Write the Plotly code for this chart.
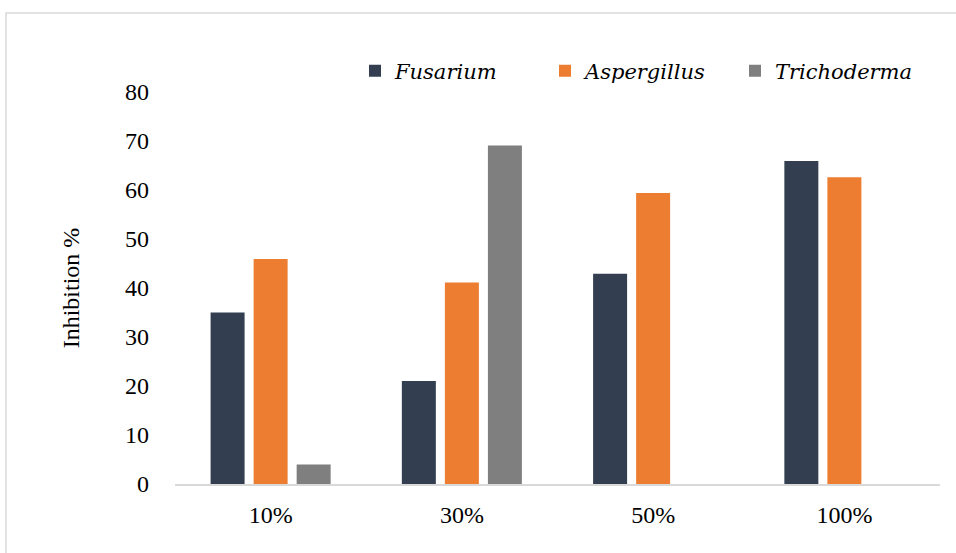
import plotly.graph_objects as go

# Extract concentrations and inhibition (%) per fungus
concentrations = ["10%", "30%", "50%", "100%"]
fusarium = [35.0, 21.0, 42.9, 65.9]
aspergillus = [45.9, 41.1, 59.4, 62.6]
trichoderma = [4.0, 69.1, None, None]

y_ticks = [0, 10, 20, 30, 40, 50, 60, 70, 80]

series = [
    ("Fusarium", fusarium, "#333f50"),
    ("Aspergillus", aspergillus, "#ed7d31"),
    ("Trichoderma", trichoderma, "#7f7f7f"),
]

FONT = "Liberation Serif"
LEGEND_FONT = "DejaVu Serif"

fig = go.Figure()
for name, values, color in series:
    fig.add_trace(go.Bar(
        name=name,
        x=concentrations,
        y=values,
        marker=dict(color=color, line=dict(width=0)),
    ))

# plot area in pixels: left 175, right 940, top 92, bottom 484
W, H = 956, 553
L, R, T, B = 175, 16, 92, 69
pw, ph = W - L - R, H - T - B

def px_x(x):
    return (x - L) / pw

def px_y(y):
    return (H - B - y) / ph

fig.update_layout(
    width=W,
    height=H,
    margin=dict(l=L, r=R, t=T, b=B),
    paper_bgcolor="white",
    plot_bgcolor="white",
    barmode="group",
    bargap=0.325,
    bargroupgap=0.21,
    font=dict(family=FONT, size=24, color="#000000"),
    showlegend=True,
    legend=dict(
        orientation="h",
        x=px_x(355),
        xanchor="left",
        y=px_y(71),
        yanchor="middle",
        entrywidth=145,
        entrywidthmode="pixels",
        font=dict(family=LEGEND_FONT, size=21, style="italic", color="#000000"),
        bgcolor="rgba(0,0,0,0)",
        traceorder="normal",
    ),
    xaxis=dict(
        showline=True,
        linecolor="#d9d9d9",
        linewidth=2,
        showgrid=False,
        ticks="",
        zeroline=False,
        tickfont=dict(family=FONT, size=24, color="#000000"),
        ticklabelstandoff=8,
    ),
    yaxis=dict(
        range=[0, 80],
        tickvals=y_ticks,
        showline=False,
        showgrid=False,
        zeroline=False,
        ticks="",
        tickfont=dict(family=FONT, size=24, color="#000000"),
        ticklabelstandoff=25,
        title=dict(
            text="Inhibition %",
            font=dict(family=FONT, size=24, color="#000000"),
            standoff=38,
        ),
    ),
    shapes=[
        dict(
            type="rect",
            xref="paper",
            yref="paper",
            x0=px_x(6),
            x1=px_x(1000),
            y0=px_y(600),
            y1=px_y(13),
            line=dict(color="#d9d9d9", width=1.5),
            fillcolor="rgba(0,0,0,0)",
            layer="below",
        )
    ],
)

fig.write_html("out.html")
